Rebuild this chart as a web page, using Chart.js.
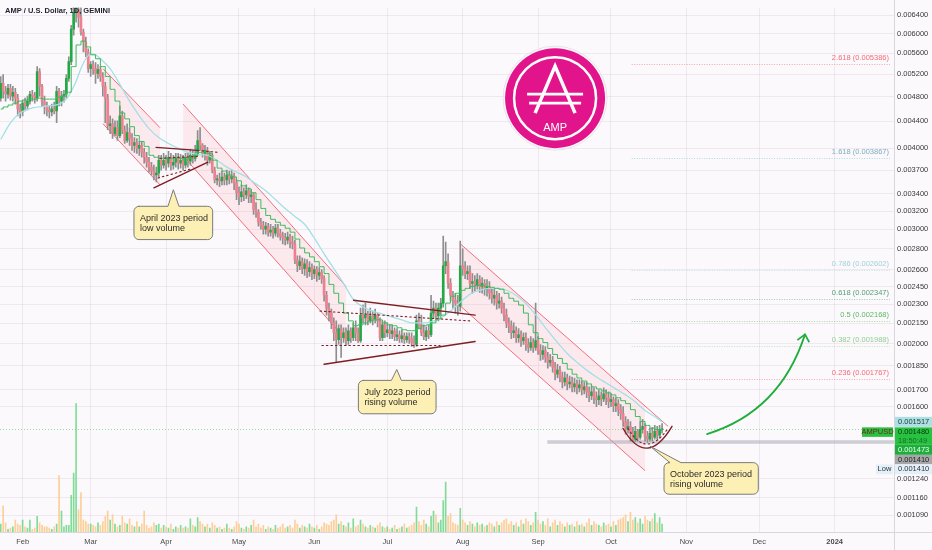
<!DOCTYPE html>
<html><head><meta charset="utf-8">
<script src="https://cdn.jsdelivr.net/npm/chart.js@4/dist/chart.umd.min.js"></script>
<style>html,body{margin:0;padding:0;background:#fcf9fc;}#wrap{width:932px;height:550px;position:relative;}canvas{display:block;}</style>
</head><body><div id="wrap"><canvas id="c" width="932" height="550"></canvas></div>
<script>
// ---- DATA ----
// day index relative to 1 Feb 2023; first candle = 23 Jan 2023
const dayFirst = -9;
const monthTickDays = [0,28,59,89,120,150,181,212,242,273,303,334];
const monthTickLabels = ['Feb','Mar','Apr','May','Jun','Jul','Aug','Sep','Oct','Nov','Dec','2024'];
const priceTicks = [0.0064,0.006,0.0056,0.0052,0.0048,0.0044,0.004,0.0037,0.0034,0.0032,0.003,0.0028,0.0026,0.00245,0.0023,0.00215,0.002,0.00185,0.0017,0.0016,0.00124,0.00116,0.00109];

const opens = [0.004774,0.005031,0.004892,0.004841,0.004943,0.004808,0.004875,0.004774,0.004595,
0.004546,0.004691,0.004643,0.004724,0.004841,0.004808,0.004774,0.005246,0.004978,0.004724,
0.004643,0.004578,0.004546,0.004595,0.004562,0.004892,0.004724,0.004808,0.004841,0.005119,
0.005432,0.006095,0.006467,0.006535,0.006356,0.006032,0.005825,0.005625,0.005301,0.005376,
0.005301,0.005209,0.005282,0.005155,0.004978,0.004774,0.004330,0.004360,0.004211,0.004300,
0.004181,0.004483,0.004255,0.004109,0.004225,0.004138,0.004038,0.004080,0.003996,0.004038,
0.003940,0.003872,0.003805,0.003739,0.003687,0.003636,0.003662,0.003832,0.003765,0.003832,
0.003792,0.003872,0.003765,0.003805,0.003858,0.003792,0.003832,0.003765,0.003872,0.003819,
0.003899,0.003858,0.003927,0.004109,0.004038,0.003927,0.003968,0.003832,0.003899,0.003700,
0.003574,0.003586,0.003562,0.003611,0.003574,0.003636,0.003586,0.003623,0.003537,0.003415,
0.003367,0.003427,0.003391,0.003439,0.003367,0.003391,0.003218,0.003185,0.003076,0.003043,
0.003001,0.003033,0.002970,0.002991,0.002959,0.003012,0.002959,0.002928,0.002908,0.002888,
0.002918,0.002868,0.002848,0.002694,0.002637,0.002675,0.002610,0.002656,0.002583,0.002619,
0.002565,0.002601,0.002547,0.002574,0.002520,0.002375,0.002270,0.002230,0.002154,0.002080,
0.002030,0.002110,0.002044,0.002080,0.002023,0.002095,0.002044,0.002117,0.002080,0.002023,
0.002214,0.002192,0.002214,0.002169,0.002207,0.002184,0.002214,0.002169,0.002044,0.002139,
0.002080,0.002102,0.002073,0.002095,0.002051,0.002065,0.002037,0.002058,0.002030,0.002051,
0.002037,0.002009,0.001995,0.002169,0.002139,0.002080,0.002051,0.002095,0.002065,0.002230,
0.002270,0.002207,0.002270,0.002310,0.002637,0.002675,0.002477,0.002375,0.002334,0.002310,
0.002286,0.002637,0.002610,0.002565,0.002583,0.002477,0.002494,0.002460,0.002511,0.002451,
0.002477,0.002426,0.002451,0.002392,0.002350,0.002375,0.002310,0.002326,0.002270,0.002214,
0.002154,0.002132,0.002080,0.002095,0.002044,0.002065,0.002023,0.002044,0.001995,0.001974,
0.002009,0.001974,0.002023,0.001953,0.001926,0.001953,0.001906,0.001873,0.001886,0.001841,
0.001796,0.001822,0.001778,0.001747,0.001772,0.001735,0.001747,0.001717,0.001735,0.001711,
0.001729,0.001699,0.001717,0.001687,0.001664,0.001687,0.001652,0.001641,0.001664,0.001646,
0.001675,0.001652,0.001629,0.001641,0.001606,0.001618,0.001584,0.001562,0.001519,0.001477,
0.001493,0.001457,0.001427,0.001467,0.001437,0.001477,0.001493,0.001442,0.001427,0.001457,
0.001437,0.001467,0.001447,0.001477];

const closes = [0.005031,0.004892,0.004841,0.004943,0.004808,0.004875,0.004774,0.004595,0.004546,
0.004691,0.004643,0.004724,0.004841,0.004808,0.004774,0.005246,0.004978,0.004724,0.004643,
0.004578,0.004546,0.004595,0.004562,0.004892,0.004724,0.004808,0.004841,0.005119,0.005432,
0.006095,0.006467,0.006535,0.006356,0.006032,0.005825,0.005625,0.005301,0.005376,0.005301,
0.005209,0.005282,0.005155,0.004978,0.004774,0.004330,0.004360,0.004211,0.004300,0.004181,
0.004483,0.004255,0.004109,0.004225,0.004138,0.004038,0.004080,0.003996,0.004038,0.003940,
0.003872,0.003805,0.003739,0.003687,0.003636,0.003662,0.003832,0.003765,0.003832,0.003792,
0.003872,0.003765,0.003805,0.003858,0.003792,0.003832,0.003765,0.003872,0.003819,0.003899,
0.003858,0.003927,0.004109,0.004038,0.003927,0.003968,0.003832,0.003899,0.003700,0.003574,
0.003586,0.003562,0.003611,0.003574,0.003636,0.003586,0.003623,0.003537,0.003415,0.003367,
0.003427,0.003391,0.003439,0.003367,0.003391,0.003218,0.003185,0.003076,0.003043,0.003001,
0.003033,0.002970,0.002991,0.002959,0.003012,0.002959,0.002928,0.002908,0.002888,0.002918,
0.002868,0.002848,0.002694,0.002637,0.002675,0.002610,0.002656,0.002583,0.002619,0.002565,
0.002601,0.002547,0.002574,0.002520,0.002375,0.002270,0.002230,0.002154,0.002080,0.002030,
0.002110,0.002044,0.002080,0.002023,0.002095,0.002044,0.002117,0.002080,0.002023,0.002214,
0.002192,0.002214,0.002169,0.002207,0.002184,0.002214,0.002169,0.002044,0.002139,0.002080,
0.002102,0.002073,0.002095,0.002051,0.002065,0.002037,0.002058,0.002030,0.002051,0.002037,
0.002009,0.001995,0.002169,0.002139,0.002080,0.002051,0.002095,0.002065,0.002230,0.002270,
0.002207,0.002270,0.002310,0.002637,0.002675,0.002477,0.002375,0.002334,0.002310,0.002286,
0.002637,0.002610,0.002565,0.002583,0.002477,0.002494,0.002460,0.002511,0.002451,0.002477,
0.002426,0.002451,0.002392,0.002350,0.002375,0.002310,0.002326,0.002270,0.002214,0.002154,
0.002132,0.002080,0.002095,0.002044,0.002065,0.002023,0.002044,0.001995,0.001974,0.002009,
0.001974,0.002023,0.001953,0.001926,0.001953,0.001906,0.001873,0.001886,0.001841,0.001796,
0.001822,0.001778,0.001747,0.001772,0.001735,0.001747,0.001717,0.001735,0.001711,0.001729,
0.001699,0.001717,0.001687,0.001664,0.001687,0.001652,0.001641,0.001664,0.001646,0.001675,
0.001652,0.001629,0.001641,0.001606,0.001618,0.001584,0.001562,0.001519,0.001477,0.001493,
0.001457,0.001427,0.001467,0.001437,0.001477,0.001493,0.001442,0.001427,0.001457,0.001437,
0.001467,0.001447,0.001477,0.001480];

const highs = [0.005155,0.005191,0.004978,0.005013,0.005013,0.004978,0.004943,0.004841,0.004675,
0.004741,0.004774,0.004808,0.004892,0.004909,0.004875,0.005338,0.005301,0.005013,0.004808,
0.004708,0.004643,0.004675,0.004708,0.004978,0.004943,0.004892,0.004909,0.005191,0.005528,
0.006181,0.006815,0.007057,0.006935,0.006581,0.006095,0.005927,0.005684,0.005432,0.005451,
0.005413,0.005376,0.005338,0.005228,0.005048,0.004841,0.004483,0.004436,0.004406,0.004406,
0.004643,0.004562,0.004330,0.004360,0.004300,0.004211,0.004152,0.004138,0.004095,0.004095,
0.003996,0.003940,0.003872,0.003805,0.003765,0.003739,0.003899,0.003899,0.003927,0.003899,
0.003954,0.003927,0.003899,0.003927,0.003927,0.003913,0.003899,0.003927,0.003927,0.003982,
0.003968,0.004038,0.004255,0.004300,0.004066,0.004038,0.004010,0.003954,0.003927,0.003739,
0.003636,0.003662,0.003687,0.003662,0.003700,0.003687,0.003700,0.003662,0.003574,0.003488,
0.003512,0.003475,0.003512,0.003475,0.003451,0.003415,0.003298,0.003218,0.003118,0.003086,
0.003076,0.003065,0.003054,0.003033,0.003054,0.003054,0.003001,0.002970,0.002959,0.002970,
0.002949,0.002928,0.002888,0.002731,0.002731,0.002712,0.002703,0.002694,0.002675,0.002656,
0.002637,0.002628,0.002619,0.002601,0.002547,0.002409,0.002310,0.002262,0.002192,0.002169,
0.002139,0.002139,0.002117,0.002117,0.002139,0.002117,0.002154,0.002169,0.002117,0.002270,
0.002294,0.002310,0.002246,0.002270,0.002246,0.002262,0.002230,0.002192,0.002169,0.002169,
0.002154,0.002139,0.002139,0.002117,0.002110,0.002095,0.002102,0.002080,0.002080,0.002080,
0.002080,0.002058,0.002214,0.002230,0.002214,0.002139,0.002124,0.002139,0.002375,0.002326,
0.002310,0.002310,0.002350,0.002928,0.002868,0.002750,0.002520,0.002409,0.002392,0.002375,
0.002878,0.002799,0.002675,0.002637,0.002637,0.002565,0.002547,0.002565,0.002547,0.002529,
0.002511,0.002511,0.002494,0.002434,0.002426,0.002409,0.002392,0.002359,0.002310,0.002262,
0.002192,0.002169,0.002154,0.002124,0.002110,0.002095,0.002080,0.002080,0.002037,0.002051,
0.002037,0.002310,0.002051,0.001995,0.001988,0.001981,0.001940,0.001926,0.001913,0.001873,
0.001860,0.001847,0.001809,0.001809,0.001796,0.001784,0.001778,0.001772,0.001760,0.001760,
0.001753,0.001747,0.001747,0.001717,0.001723,0.001711,0.001687,0.001699,0.001687,0.001711,
0.001699,0.001687,0.001675,0.001658,0.001652,0.001641,0.001612,0.001601,0.001546,0.001530,
0.001519,0.001488,0.001493,0.001477,0.001519,0.001530,0.001508,0.001467,0.001483,0.001488,
0.001498,0.001493,0.001498,0.001508];

const lows = [0.004724,0.004774,0.004724,0.004774,0.004741,0.004724,0.004675,0.004483,0.004452,
0.004483,0.004562,0.004578,0.004675,0.004724,0.004691,0.004724,0.004808,0.004643,0.004514,
0.004483,0.004452,0.004483,0.004514,0.004375,0.004643,0.004643,0.004708,0.004774,0.005066,
0.005376,0.005969,0.006246,0.006138,0.005969,0.005625,0.005528,0.005228,0.005155,0.005191,
0.005031,0.005119,0.005066,0.004808,0.004375,0.004270,0.004211,0.004138,0.004181,0.004109,
0.004152,0.004211,0.004066,0.004080,0.004038,0.003968,0.003940,0.003927,0.003899,0.003872,
0.003792,0.003739,0.003674,0.003636,0.003574,0.003549,0.003611,0.003700,0.003726,0.003700,
0.003739,0.003700,0.003713,0.003739,0.003713,0.003726,0.003700,0.003726,0.003739,0.003765,
0.003792,0.003819,0.003899,0.003968,0.003872,0.003832,0.003765,0.003792,0.003662,0.003537,
0.003512,0.003488,0.003512,0.003512,0.003512,0.003524,0.003537,0.003451,0.003333,0.003275,
0.003310,0.003321,0.003344,0.003298,0.003298,0.003162,0.003129,0.003033,0.003001,0.002949,
0.002949,0.002928,0.002928,0.002908,0.002928,0.002918,0.002888,0.002848,0.002838,0.002848,
0.002808,0.002799,0.002656,0.002583,0.002601,0.002565,0.002547,0.002529,0.002538,0.002511,
0.002520,0.002494,0.002511,0.002477,0.002326,0.002214,0.002169,0.002110,0.002023,0.001873,
0.001995,0.001906,0.002009,0.001988,0.001995,0.002009,0.002023,0.002023,0.002009,0.002009,
0.002154,0.002139,0.002139,0.002154,0.002139,0.002154,0.002124,0.002023,0.002023,0.002044,
0.002051,0.002037,0.002037,0.002023,0.002023,0.002009,0.002009,0.002002,0.002009,0.002002,
0.001981,0.001974,0.001981,0.002110,0.002058,0.002030,0.002023,0.002037,0.002051,0.002192,
0.002169,0.002169,0.002214,0.002278,0.002565,0.002434,0.002326,0.002270,0.002230,0.002214,
0.002246,0.002547,0.002520,0.002511,0.002434,0.002392,0.002409,0.002426,0.002400,0.002392,
0.002375,0.002367,0.002342,0.002310,0.002294,0.002262,0.002270,0.002230,0.002169,0.002117,
0.002080,0.002037,0.002044,0.002009,0.002009,0.001981,0.001995,0.001953,0.001940,0.001953,
0.001940,0.001953,0.001926,0.001886,0.001893,0.001873,0.001835,0.001847,0.001809,0.001760,
0.001772,0.001747,0.001711,0.001723,0.001699,0.001711,0.001687,0.001687,0.001675,0.001687,
0.001669,0.001675,0.001652,0.001629,0.001641,0.001618,0.001601,0.001612,0.001606,0.001629,
0.001612,0.001595,0.001601,0.001573,0.001573,0.001551,0.001530,0.001493,0.001452,0.001457,
0.001417,0.001414,0.001414,0.001417,0.001427,0.001457,0.001417,0.001410,0.001417,0.001417,
0.001427,0.001427,0.001432,0.001457];

const volumes = [6,20,7,2,3,4,9,6,5,
9,4,3,9,2,3,12,7,5,4,
4,3,2,4,6,43,16,4,5,5,
28,45,98,17,30,9,8,6,6,5,
4,7,5,8,12,16,9,13,6,4,
5,12,7,6,10,5,4,8,4,6,
16,5,3,4,7,5,6,3,5,4,
3,6,2,4,3,5,3,4,3,10,
5,4,11,8,6,4,6,3,7,5,
3,4,2,3,6,3,2,4,8,6,
3,2,4,3,5,9,4,6,3,5,
2,4,3,2,5,3,4,6,3,4,
5,3,9,6,3,5,4,3,6,4,
3,5,2,4,7,6,5,8,9,13,
6,8,5,4,7,3,10,4,5,9,
6,4,3,5,4,3,5,7,4,3,
4,2,3,5,2,3,4,6,3,4,
5,7,19,8,5,9,6,4,12,16,
13,7,9,24,38,12,14,7,6,5,
18,9,7,5,8,6,4,7,5,6,
4,5,7,6,4,8,5,7,9,10,
6,8,5,7,4,9,6,10,8,5,
7,15,9,6,8,5,10,4,7,9,
5,8,6,4,7,5,6,4,8,5,
6,4,7,10,5,8,6,5,4,7,
5,6,4,8,5,9,10,11,13,8,
15,9,11,7,10,6,12,9,8,10,
14,7,11,6];

// fast moving average (step line), one value every 2 days starting at dayFirst
const fastMA = [0.004595,0.004627,0.004659,0.004691,0.004724,0.004741,0.004758,0.004758,0.004774,0.004758,
0.004758,0.004758,0.004791,0.004808,0.004875,0.005338,0.005764,0.005845,0.005724,0.005566,
0.005489,0.005338,0.005155,0.004926,0.004724,0.004530,0.004436,0.004315,0.004181,0.004095,
0.004024,0.003899,0.003872,0.003858,0.003858,0.003858,0.003872,0.003858,0.003832,0.003858,
0.003899,0.003940,0.003954,0.003927,0.003832,0.003726,0.003687,0.003636,0.003611,0.003562,
0.003500,0.003463,0.003415,0.003333,0.003230,0.003151,0.003108,0.003076,0.003043,0.003012,
0.002970,0.002898,0.002808,0.002760,0.002721,0.002675,0.002628,0.002565,0.002468,0.002392,
0.002310,0.002230,0.002169,0.002132,0.002139,0.002154,0.002169,0.002177,0.002177,0.002154,
0.002139,0.002132,0.002117,0.002102,0.002095,0.002095,0.002110,0.002132,0.002139,0.002154,
0.002184,0.002214,0.002310,0.002367,0.002392,0.002417,0.002434,0.002451,0.002460,0.002460,
0.002451,0.002443,0.002434,0.002426,0.002392,0.002350,0.002326,0.002294,0.002230,0.002139,
0.002080,0.002037,0.002009,0.001967,0.001926,0.001899,0.001866,0.001828,0.001796,0.001772,
0.001753,0.001735,0.001717,0.001705,0.001693,0.001681,0.001669,0.001652,0.001635,0.001618,
0.001584,0.001546,0.001519,0.001498,0.001483,0.001477,0.001473];

// slow moving average
const slowMADays = [-9,-5,-1,4,10,15,18,20,22,24,26,28,30,32,36,40,44,48,52,56,60,64,68,72,76,80,84,88,92,96,100,104,108,112,116,120,124,128,132,136,140,144,148,152,156,160,164,168,172,176,180,184,188,192,196,200,204,208,212,216,220,224,228,232,236,240,244,248,252,256,260,263];
const slowMA = [0.004123,0.004375,0.004530,0.004611,0.004643,0.004675,0.004758,0.004892,0.005066,0.005301,
0.005489,0.005586,0.005566,0.005489,0.005301,0.005013,0.004724,0.004483,0.004285,0.004152,
0.004066,0.003996,0.003940,0.003913,0.003899,0.003832,0.003739,0.003674,0.003611,0.003524,
0.003439,0.003333,0.003230,0.003140,0.003054,0.002908,0.002750,0.002610,0.002477,0.002342,
0.002278,0.002246,0.002222,0.002199,0.002177,0.002154,0.002154,0.002161,0.002192,0.002246,
0.002317,0.002384,0.002417,0.002434,0.002434,0.002409,0.002359,0.002286,0.002192,0.002095,
0.002009,0.001933,0.001873,0.001822,0.001778,0.001741,0.001705,0.001669,0.001629,0.001579,
0.001546,0.001517];

const fibLevels = ['2.618','1.618','0.786','0.618','0.5','0.382','0.236'];
const fibPrices = [0.005386,0.003867,0.002602,0.002347,0.002168,0.001988,0.001767];
const lastClose = 0.001480, lastFastMA = 0.001473, lastSlowMA = 0.001517, periodLow = 0.001410;

// ---- DRAWINGS (in data coordinates: [day, price]) ----
const channels = [
  {top:[[33.07,0.005301],[56.5,0.004300]], bot:[[33.07,0.004360],[56.5,0.003512]], fill:[33.07,56.5]},
  {top:[[66.0,0.004675],[133.0,0.002451]], bot:[[66.0,0.003890],[133.0,0.002030]], fill:[66.0,133.0]},
  {top:[[180.1,0.002848],[265.5,0.001493]], bot:[[180.1,0.002286],[256.0,0.001276]], fill:[180.1,256.0]}
];
const trendSolid = [
  [[54.9,0.004010],[72.0,0.003968]], [[54.0,0.003475],[76.2,0.003805]],
  [[136.1,0.002334],[186.1,0.002214]], [[124.0,0.001860],[186.1,0.002016]]
];
const trendDotted = [
  [[72.0,0.003968],[80.4,0.003940]], [[56.5,0.003858],[73.0,0.003886]], [[55.7,0.003598],[68.9,0.003713]],
  [[122.3,0.002246],[184.0,0.002169]], [[123.1,0.001988],[171.7,0.001988]]
];
const cupSolid = [[246.9,0.001483],[256.6,0.001284],[267.1,0.001493]];
const cupDotted = [[249.0,0.001483],[256.4,0.001326],[265.5,0.001483]];
const arrowCurve = [[281.5,0.001453],[311.5,0.001573],[321.8,0.002068]];
const arrowWings = [[318.9,0.002030],[323.4,0.002016]];
const supportLine = {from:215.8, price:0.001413};
const fibFrom = 250.5;
const callouts = [
  {d:45.8, p:0.003255, w:78.7, h:33.3, ad:62.0, ap:0.003451, b0:34, b1:45, lines:['April 2023 period','low volume']},
  {d:138.1, p:0.001757, w:77.7, h:33.4, ad:153.9, ap:0.001826, b0:33, b1:43, lines:['July 2023 period','rising volume']},
  {d:263.8, p:0.001313, w:94.3, h:31.6, ad:258.0, ap:0.001392, b0:6, b1:17, lines:['October 2023 period','rising volume']}
];
const logoAnchor = [219.0, 0.004774];

// ---- BUILD ----
const FONT = '"Liberation Sans", Arial, sans-serif';
const candleDays = closes.map((_, i) => dayFirst + i);
const isUp = closes.map((c, i) => c >= opens[i]);
const X_MIN = (0 - 22.6) / 2.4314, X_MAX = (894 - 22.6) / 2.4314;

function P(chart, pt){ return [chart.scales.x.getPixelForValue(pt[0]), chart.scales.y.getPixelForValue(pt[1])]; }
function yAt(a, b, x){ return a[1] + (b[1]-a[1]) * (x - a[0]) / (b[0] - a[0]); }

const decor = {
  id: 'decor',
  beforeDatasetsDraw(chart){
    const ctx = chart.ctx, a = chart.chartArea;
    ctx.save();
    ctx.beginPath(); ctx.rect(a.left, a.top, a.right-a.left, a.bottom-a.top); ctx.clip();
    channels.forEach(ch => {
      const t0 = P(chart, ch.top[0]), t1 = P(chart, ch.top[1]);
      const b0 = P(chart, ch.bot[0]), b1 = P(chart, ch.bot[1]);
      const xa = chart.scales.x.getPixelForValue(ch.fill[0]), xb = chart.scales.x.getPixelForValue(ch.fill[1]);
      ctx.beginPath();
      ctx.moveTo(xa, yAt(t0,t1,xa)); ctx.lineTo(xb, yAt(t0,t1,xb));
      ctx.lineTo(xb, yAt(b0,b1,xb)); ctx.lineTo(xa, yAt(b0,b1,xa)); ctx.closePath();
      ctx.fillStyle = 'rgba(242,80,100,0.09)'; ctx.fill();
      ctx.strokeStyle = '#f26d7d'; ctx.lineWidth = 1;
      ctx.beginPath(); ctx.moveTo(t0[0], t0[1]); ctx.lineTo(t1[0], t1[1]); ctx.stroke();
      ctx.beginPath(); ctx.moveTo(b0[0], b0[1]); ctx.lineTo(b1[0], b1[1]); ctx.stroke();
    });
    const fibColors = ['rgba(242,107,120,0.6)','rgba(120,195,215,0.6)','rgba(150,215,220,0.6)','rgba(79,159,115,0.55)','rgba(93,187,99,0.55)','rgba(140,205,145,0.55)','rgba(242,107,120,0.6)'];
    const fx = chart.scales.x.getPixelForValue(fibFrom);
    fibPrices.forEach((p, i) => {
      const y = Math.round(chart.scales.y.getPixelForValue(p)) + 0.5;
      ctx.strokeStyle = fibColors[i]; ctx.lineWidth = 1; ctx.setLineDash([1,1.5]);
      ctx.beginPath(); ctx.moveTo(fx, y); ctx.lineTo(a.right - 4, y); ctx.stroke();
    });
    ctx.setLineDash([]);
    const sy = chart.scales.y.getPixelForValue(supportLine.price);
    ctx.strokeStyle = 'rgba(170,170,180,0.55)'; ctx.lineWidth = 3.5;
    ctx.beginPath(); ctx.moveTo(chart.scales.x.getPixelForValue(supportLine.from), sy); ctx.lineTo(a.right, sy); ctx.stroke();
    const py = Math.round(chart.scales.y.getPixelForValue(lastClose)) + 0.5;
    ctx.strokeStyle = '#8fdca3'; ctx.lineWidth = 1; ctx.setLineDash([1,2]);
    ctx.beginPath(); ctx.moveTo(a.left, py); ctx.lineTo(a.right, py); ctx.stroke();
    ctx.setLineDash([]);
    ctx.restore();
  },
  afterDatasetsDraw(chart){
    const ctx = chart.ctx, a = chart.chartArea;
    ctx.save();
    ctx.strokeStyle = '#7e1f23'; ctx.lineWidth = 1.4; ctx.lineCap = 'round';
    trendSolid.forEach(l => { const p0 = P(chart,l[0]), p1 = P(chart,l[1]);
      ctx.beginPath(); ctx.moveTo(p0[0],p0[1]); ctx.lineTo(p1[0],p1[1]); ctx.stroke(); });
    ctx.lineWidth = 1.1; ctx.setLineDash([1.5,3]);
    trendDotted.forEach(l => { const p0 = P(chart,l[0]), p1 = P(chart,l[1]);
      ctx.beginPath(); ctx.moveTo(p0[0],p0[1]); ctx.lineTo(p1[0],p1[1]); ctx.stroke(); });
    let c0 = P(chart,cupDotted[0]), c1 = P(chart,cupDotted[1]), c2 = P(chart,cupDotted[2]);
    ctx.beginPath(); ctx.moveTo(c0[0],c0[1]); ctx.quadraticCurveTo(c1[0],c1[1],c2[0],c2[1]); ctx.stroke();
    ctx.setLineDash([]); ctx.lineWidth = 1.4;
    c0 = P(chart,cupSolid[0]); c1 = P(chart,cupSolid[1]); c2 = P(chart,cupSolid[2]);
    ctx.beginPath(); ctx.moveTo(c0[0],c0[1]); ctx.quadraticCurveTo(c1[0],c1[1],c2[0],c2[1]); ctx.stroke();
    const q0 = P(chart,arrowCurve[0]), q1 = P(chart,arrowCurve[1]), q2 = P(chart,arrowCurve[2]);
    const w0 = P(chart,arrowWings[0]), w1 = P(chart,arrowWings[1]);
    ctx.strokeStyle = '#1fae3c'; ctx.lineWidth = 1.8; ctx.lineJoin = 'round';
    ctx.beginPath(); ctx.moveTo(q0[0],q0[1]); ctx.quadraticCurveTo(q1[0],q1[1],q2[0],q2[1]); ctx.stroke();
    ctx.beginPath(); ctx.moveTo(w0[0],w0[1]); ctx.lineTo(q2[0],q2[1]); ctx.lineTo(w1[0],w1[1]); ctx.stroke();
    callouts.forEach(c => {
      const [x0, y0] = P(chart, [c.d, c.p]); const [ax, ay] = P(chart, [c.ad, c.ap]);
      const w = c.w, h = c.h, r = 5;
      ctx.beginPath();
      ctx.moveTo(x0 + r, y0);
      ctx.lineTo(x0 + c.b0, y0); ctx.lineTo(ax, ay); ctx.lineTo(x0 + c.b1, y0);
      ctx.lineTo(x0 + w - r, y0); ctx.arcTo(x0 + w, y0, x0 + w, y0 + r, r);
      ctx.lineTo(x0 + w, y0 + h - r); ctx.arcTo(x0 + w, y0 + h, x0 + w - r, y0 + h, r);
      ctx.lineTo(x0 + r, y0 + h); ctx.arcTo(x0, y0 + h, x0, y0 + h - r, r);
      ctx.lineTo(x0, y0 + r); ctx.arcTo(x0, y0, x0 + r, y0, r);
      ctx.closePath();
      ctx.fillStyle = '#fdf0b4'; ctx.fill();
      ctx.strokeStyle = '#7a7a7a'; ctx.lineWidth = 1; ctx.stroke();
      ctx.fillStyle = '#2b2b2b'; ctx.font = '9px ' + FONT; ctx.textBaseline = 'middle'; ctx.textAlign = 'left';
      c.lines.forEach((t, i) => ctx.fillText(t, x0 + 6, y0 + 12 + i * 10));
    });
    const fibText = ['#f26b78','#79aebf','#9fd3d8','#4f9f73','#5dbb63','#8fcf93','#f26b78'];
    ctx.font = '7.5px ' + FONT; ctx.textAlign = 'right'; ctx.textBaseline = 'middle';
    fibPrices.forEach((p, i) => {
      const y = chart.scales.y.getPixelForValue(p);
      ctx.fillStyle = fibText[i];
      ctx.fillText(fibLevels[i] + ' (' + p.toFixed(6) + ')', a.right - 5, y - 6);
    });
    const [lx, ly] = P(chart, logoAnchor);
    ctx.beginPath(); ctx.arc(lx, ly, 52, 0, Math.PI*2); ctx.strokeStyle = '#e8e2e8'; ctx.lineWidth = 1; ctx.stroke();
    ctx.beginPath(); ctx.arc(lx, ly, 50, 0, Math.PI*2); ctx.fillStyle = '#e2148c'; ctx.fill();
    ctx.beginPath(); ctx.arc(lx, ly, 41, 0, Math.PI*2); ctx.strokeStyle = '#ffffff'; ctx.lineWidth = 2.5; ctx.stroke();
    ctx.lineWidth = 3.5; ctx.lineJoin = 'miter'; ctx.lineCap = 'butt';
    ctx.beginPath(); ctx.moveTo(lx - 20, ly + 15); ctx.lineTo(lx, ly - 32); ctx.lineTo(lx + 20, ly + 15); ctx.stroke();
    ctx.lineWidth = 2.8;
    ctx.beginPath(); ctx.moveTo(lx - 28, ly - 4); ctx.lineTo(lx + 28, ly - 4); ctx.stroke();
    ctx.beginPath(); ctx.moveTo(lx - 26, ly + 5); ctx.lineTo(lx + 26, ly + 5); ctx.stroke();
    ctx.fillStyle = '#ffffff'; ctx.font = '11px ' + FONT; ctx.textAlign = 'center'; ctx.textBaseline = 'middle';
    ctx.fillText('AMP', lx, ly + 30);
    ctx.fillStyle = '#1e222d'; ctx.font = '600 7.5px ' + FONT; ctx.textAlign = 'left'; ctx.textBaseline = 'middle';
    ctx.fillText('AMP / U.S. Dollar, 1D, GEMINI', 5, 11);
    ctx.restore();
  },
  afterDraw(chart){
    const ctx = chart.ctx, a = chart.chartArea, ys = chart.scales.y;
    ctx.save();
    ctx.strokeStyle = '#d9d6dc'; ctx.lineWidth = 1;
    ctx.beginPath(); ctx.moveTo(a.right + 0.5, 0); ctx.lineTo(a.right + 0.5, 550); ctx.stroke();
    ctx.beginPath(); ctx.moveTo(0, a.bottom + 0.5); ctx.lineTo(932, a.bottom + 0.5); ctx.stroke();
    ctx.font = '7.5px ' + FONT; ctx.textBaseline = 'middle'; ctx.textAlign = 'left';
    const X = a.right + 1, W = 932 - X, tx = a.right + 4;
    function box(y, h, bg, lines, colors){
      ctx.fillStyle = bg; ctx.fillRect(X, y, W, h);
      lines.forEach((t, i) => { ctx.fillStyle = colors[i]; ctx.fillText(t, tx, y + 5 + i * 8.5); });
    }
    let y = ys.getPixelForValue(lastSlowMA) - 5;
    box(y, 10, '#ade0e2', [lastSlowMA.toFixed(6)], ['#1d3b3d']); y += 10.5;
    box(y, 17.5, '#27c23f', [lastClose.toFixed(6), '18:50:49'], ['#0d3314', '#1c6e2a']);
    ctx.fillStyle = '#27c23f'; ctx.fillRect(a.right - 32, y, 31, 9.5);
    ctx.fillStyle = '#7a1d1d'; ctx.textAlign = 'center'; ctx.fillText('AMPUSD', a.right - 16.5, y + 5);
    ctx.textAlign = 'left';
    y += 17.5;
    box(y, 10, '#1fae3c', [lastFastMA.toFixed(6)], ['#eafff0']); y += 10;
    box(y, 9.5, '#a7a7a9', [periodLow.toFixed(6)], ['#1e1e1e']); y += 9.5;
    box(y, 10, '#e3f0f9', [periodLow.toFixed(6)], ['#333333']);
    ctx.fillStyle = '#e3f0f9'; ctx.fillRect(a.right - 18, y, 17, 10);
    ctx.fillStyle = '#333333'; ctx.textAlign = 'center'; ctx.fillText('Low', a.right - 9.5, y + 5);
    ctx.restore();
  }
};

const gridColor = 'rgba(225,212,225,0.45)';
new Chart(document.getElementById('c').getContext('2d'), {
  type: 'bar',
  data: { datasets: [
    { type:'line', label:'Fast MA', data: fastMA.map((v, i) => ({x: dayFirst + 2*i, y: v})),
      borderColor:'#3dba5b', borderWidth:1, pointRadius:0, stepped:'middle', yAxisID:'y', order:1 },
    { type:'line', label:'Slow MA', data: slowMA.map((v, i) => ({x: slowMADays[i], y: v})),
      borderColor:'#a3dfe5', borderWidth:1.3, pointRadius:0, cubicInterpolationMode:'monotone', yAxisID:'y', order:2 },
    { label:'Body', data: candleDays.map((d, i) => ({x: d, y: [opens[i], closes[i]]})),
      backgroundColor: isUp.map(u => u ? '#22a845' : '#f0808f'), barThickness:2, grouped:false, yAxisID:'y', order:3 },
    { label:'Wick', data: candleDays.map((d, i) => ({x: d, y: [lows[i], highs[i]]})),
      backgroundColor:'#8e8e8e', barThickness:1, grouped:false, yAxisID:'y', order:4 },
    { label:'Volume', data: candleDays.map((d, i) => ({x: d, y: volumes[i]})),
      backgroundColor: isUp.map(u => u ? 'rgba(96,212,124,0.8)' : 'rgba(252,196,128,0.8)'), barThickness:1, grouped:false, yAxisID:'yv', order:5 }
  ]},
  options: {
    responsive:false, animation:false, devicePixelRatio:1,
    layout:{ padding:0 },
    plugins:{ legend:{display:false}, tooltip:{enabled:false} },
    scales: {
      x: { type:'linear', min:X_MIN, max:X_MAX, offset:false, position:'bottom',
        afterFit(s){ s.height = 18; },
        afterBuildTicks(s){ s.ticks = monthTickDays.map(v => ({value:v})); },
        ticks:{ autoSkip:false, maxRotation:0, padding:5, color:'#4a4a4a',
          font: (c) => (c.tick && c.tick.value === 334) ? {size:7.5, weight:'bold', family:FONT} : {size:7.5, family:FONT},
          callback: (v) => { const k = monthTickDays.indexOf(v); return k >= 0 ? monthTickLabels[k] : ''; } },
        grid:{ color:gridColor, drawTicks:false, offset:false }, border:{ display:false } },
      y: { type:'logarithmic', position:'right', min:0.001027, max:0.0065813,
        afterFit(s){ s.width = 38; },
        afterBuildTicks(s){ s.ticks = priceTicks.map(v => ({value:v})); },
        ticks:{ padding:3, color:'#3a3a3a', font:{size:7.5, family:FONT}, callback: (v) => Number(v).toFixed(6) },
        grid:{ color:gridColor, drawTicks:false }, border:{ display:false } },
      yv: { type:'linear', display:false, min:0, max:400 }
    }
  },
  plugins:[decor]
});
</script></body></html>
